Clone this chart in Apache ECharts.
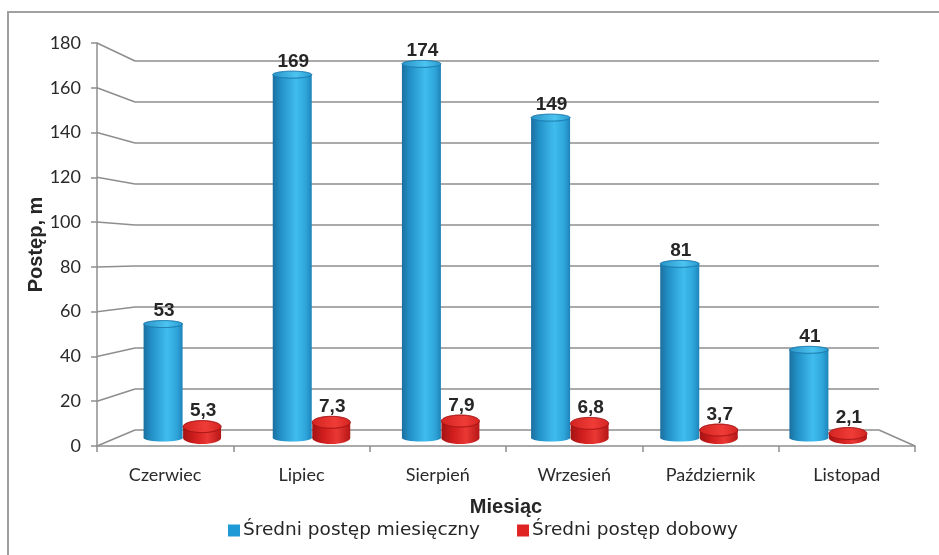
<!DOCTYPE html>
<html>
<head>
<meta charset="utf-8">
<script src="https://cdn.jsdelivr.net/npm/echarts@6/dist/echarts.min.js"></script>
<style>html,body{margin:0;padding:0;background:#fff;}#c{width:939px;height:555px;}</style>
</head>
<body>
<div id="c"></div>
<script>
const categories = ['Czerwiec', 'Lipiec', 'Sierpień', 'Wrzesień', 'Październik', 'Listopad'];
const monthly = [53, 169, 174, 149, 81, 41];
const daily = [5.3, 7.3, 7.9, 6.8, 3.7, 2.1];
const yTicks = [0, 20, 40, 60, 80, 100, 120, 140, 160, 180];
const seriesNames = ['Średni postęp miesięczny', 'Średni postęp dobowy'];

const chart = echarts.init(document.getElementById('c'));
const gridColor = '#8e8e8e';

function fmt(v) { return String(v).replace('.', ','); }

function cylinder(offset, width, ry, stops, topStops, edge, labelGap) {
  return function (params, api) {
    const cat = api.value(0), val = api.value(1);
    const top = api.coord([cat, val]);
    const base = api.coord([cat, 0]);
    const cx = top[0] + offset;
    const x0 = cx - width / 2;
    const grad = new echarts.graphic.LinearGradient(0, 0, 1, 0, stops);
    const tgrad = new echarts.graphic.LinearGradient(0, 0, 1, 0, topStops);
    return {
      type: 'group',
      children: [
        { type: 'ellipse', shape: { cx: cx, cy: base[1], rx: width / 2, ry: ry }, style: { fill: grad } },
        { type: 'rect', shape: { x: x0, y: top[1], width: width, height: Math.max(0, base[1] - top[1]) }, style: { fill: grad } },
        { type: 'ellipse', shape: { cx: cx, cy: top[1], rx: width / 2, ry: ry }, style: { fill: tgrad, stroke: edge, lineWidth: 0.6 } },
        { type: 'text', style: { text: fmt(val), x: cx + 1, y: top[1] - ry - labelGap, textAlign: 'center', textVerticalAlign: 'bottom', font: 'bold 19px "Liberation Sans", Arial, sans-serif', fill: '#262626' } }
      ]
    };
  };
}

const blueStops = [
  { offset: 0, color: '#1b6f9f' }, { offset: 0.2, color: '#2290c6' },
  { offset: 0.6, color: '#40bced' }, { offset: 0.85, color: '#2ea5da' }, { offset: 1, color: '#1e84b9' }
];
const blueTop = [
  { offset: 0, color: '#2a93c8' }, { offset: 0.6, color: '#4cc4f0' }, { offset: 1, color: '#2a9ad0' }
];
const redStops = [
  { offset: 0, color: '#a31313' }, { offset: 0.3, color: '#d01d1d' },
  { offset: 0.65, color: '#ea3834' }, { offset: 1, color: '#b51717' }
];
const redTop = [
  { offset: 0, color: '#d42421' }, { offset: 0.6, color: '#ef3c37' }, { offset: 1, color: '#d42421' }
];

const option = {
  animation: false,
  backgroundColor: '#fff',
  grid: [
    { left: 135, right: 60, top: 61, bottom: 125 },   // back wall
    { left: 118, right: 46, top: 51, bottom: 117 },   // bars
    { left: 97, right: 24, top: 43, bottom: 109 }     // front axes
  ],
  xAxis: [
    { gridIndex: 0, type: 'category', data: categories, show: false },
    { gridIndex: 1, type: 'category', data: categories, show: false },
    { gridIndex: 2, type: 'category', data: categories,
      axisLine: { lineStyle: { color: gridColor, width: 1.5 } },
      axisTick: { show: true, length: 6, lineStyle: { color: gridColor, width: 1.5 } },
      axisLabel: { color: '#2a2a2a', fontSize: 18, fontFamily: 'Lato, sans-serif', margin: 20 },
      name: 'Miesiąc', nameLocation: 'middle', nameGap: 51, nameMoveOverlap: false,
      nameTextStyle: { fontWeight: 'bold', fontSize: 20, color: '#262626', fontFamily: '"Liberation Sans", Arial, sans-serif' },
      splitLine: { show: false } }
  ],
  yAxis: [
    { gridIndex: 0, type: 'value', min: 0, max: 180, interval: 20,
      axisLine: { show: false }, axisTick: { show: false }, axisLabel: { show: false },
      splitLine: { show: true, lineStyle: { color: gridColor, width: 1.5 } } },
    { gridIndex: 1, type: 'value', min: 0, max: 180, interval: 20, show: false, splitLine: { show: false } },
    { gridIndex: 2, type: 'value', min: 0, max: 180, interval: 20,
      axisLine: { show: true, lineStyle: { color: gridColor, width: 1.5 } },
      axisTick: { show: true, length: 6, lineStyle: { color: gridColor, width: 1.5 } },
      axisLabel: { color: '#2a2a2a', fontSize: 18, fontFamily: 'Lato, sans-serif', margin: 16 },
      splitLine: { show: false },
      name: 'Postęp, m', nameLocation: 'middle', nameGap: 51, nameMoveOverlap: false,
      nameTextStyle: { fontWeight: 'bold', fontSize: 20, color: '#262626', fontFamily: '"Liberation Sans", Arial, sans-serif' } }
  ],
  legend: {
    top: 516, left: 223, itemGap: 37, itemWidth: 12, itemHeight: 12, icon: 'rect',
    textStyle: { fontSize: 18.5, color: '#262626', fontFamily: '"DejaVu Sans", sans-serif', padding: [0, 0, 0, -2] },
    data: seriesNames
  },
  series: [
    { name: seriesNames[0], type: 'custom', xAxisIndex: 1, yAxisIndex: 1,
      itemStyle: { color: '#1e9ad6' },
      renderItem: cylinder(-19.5, 39, 3.5, blueStops, blueTop, '#1b79ad', 0),
      data: monthly.map((v, i) => [i, v]) },
    { name: seriesNames[1], type: 'custom', xAxisIndex: 1, yAxisIndex: 1,
      itemStyle: { color: '#e02424' },
      renderItem: cylinder(19.5, 38, 6, redStops, redTop, '#a51414', 0),
      data: daily.map((v, i) => [i, v]) }
  ]
};
chart.setOption(option);

// 3D wall connectors: from front axis ticks to back wall gridlines
const gfx = [];
const fx = 97, bx = 135;
yTicks.forEach(v => {
  const yf = chart.convertToPixel({ yAxisIndex: 2 }, v);
  const yb = chart.convertToPixel({ yAxisIndex: 0 }, v);
  gfx.push({ type: 'line', z: 1, shape: { x1: fx, y1: yf, x2: bx, y2: yb }, style: { stroke: gridColor, lineWidth: 1.5 } });
});
const y0f = chart.convertToPixel({ yAxisIndex: 2 }, 0);
const y0b = chart.convertToPixel({ yAxisIndex: 0 }, 0);
gfx.push({ type: 'line', z: 1, shape: { x1: 939 - 24, y1: y0f, x2: 939 - 60, y2: y0b }, style: { stroke: gridColor, lineWidth: 1.5 } });
gfx.push({ type: 'rect', z: 0, shape: { x: 8, y: 12, width: 1000, height: 600 }, style: { fill: 'none', stroke: '#a0a0a0', lineWidth: 2 } });
chart.setOption({ graphic: gfx });
</script>
</body>
</html>
